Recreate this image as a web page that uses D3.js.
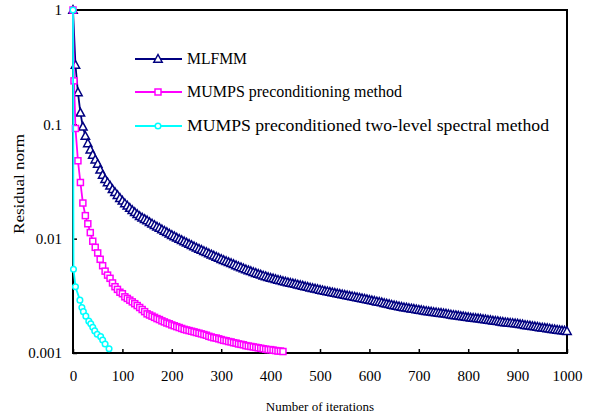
<!DOCTYPE html>
<html lang="en">
<head>
  <meta charset="UTF-8">
  <title>Residual norm vs iterations</title>
  <script src="https://d3js.org/d3.v7.min.js"></script>
  <style>
    body { margin: 0; background: #fff; }
  </style>
</head>
<body>
<script>
// series names (legend order)
const seriesNames = [
  "MLFMM",
  "MUMPS preconditioning method",
  "MUMPS preconditioned two-level spectral method"
];

// MLFMM: one marker every 5 iterations, 0..1000
const mlfmmStep = 5;
const mlfmmResidual = [
  1, 0.33, 0.19, 0.126, 0.095, 0.079, 0.068, 0.060, 0.054, 0.049,
  0.045, 0.040, 0.036, 0.033, 0.031, 0.029, 0.027, 0.0254, 0.024, 0.0226,
  0.0214, 0.0203, 0.0194, 0.0185, 0.0177, 0.0170, 0.0163, 0.0157, 0.0152, 0.0148,
  0.0144, 0.0139, 0.0135, 0.0131, 0.0127, 0.0124, 0.0120, 0.01167, 0.01135,
  0.01102, 0.01072, 0.01045, 0.01016, 0.00991, 0.00966, 0.00942, 0.00918, 0.00895, 0.00875,
  0.00853, 0.00832, 0.00813, 0.00794, 0.00776, 0.00759, 0.00741, 0.00724, 0.00708, 0.00692,
  0.00676, 0.00661, 0.00647, 0.00634, 0.00621, 0.00608, 0.00596, 0.00583, 0.00571, 0.00560,
  0.00548, 0.00537, 0.00527, 0.00518, 0.00508, 0.00499, 0.00490, 0.00482, 0.00474, 0.00467,
  0.00459, 0.00452, 0.00447, 0.00441, 0.00435, 0.00430, 0.00424, 0.00419, 0.00414, 0.00409,
  0.00404, 0.00400, 0.00395, 0.00390, 0.00386, 0.00381, 0.00377, 0.00372, 0.00368, 0.00364,
  0.00360, 0.00356, 0.00352, 0.00348, 0.00345, 0.00341, 0.00338, 0.00334, 0.00331, 0.00328,
  0.00324, 0.00321, 0.00318, 0.00315, 0.00312, 0.00309, 0.00306, 0.00303, 0.00300, 0.00297,
  0.00294,
  0.00290, 0.00287, 0.00284, 0.00281, 0.00279, 0.00276, 0.00272, 0.00269, 0.00266, 0.00263,
  0.00260, 0.00257, 0.00255, 0.00252, 0.00250, 0.00248, 0.00246, 0.00244, 0.00242, 0.00240,
  0.00238, 0.00236, 0.00234, 0.00232, 0.00230, 0.00229, 0.00227, 0.00226, 0.00224, 0.00223,
  0.00221, 0.00220, 0.00218, 0.00216, 0.00214, 0.00213, 0.00211, 0.00209, 0.00208, 0.00206,
  0.00205, 0.00203, 0.00202, 0.00201, 0.00200, 0.00199, 0.00197, 0.00196, 0.00194, 0.00193,
  0.00191, 0.00190, 0.00189, 0.00187, 0.00186, 0.00185, 0.00184, 0.00183, 0.00182, 0.00181,
  0.00180, 0.00178, 0.00177, 0.00175, 0.00174, 0.00173, 0.00171, 0.00170, 0.00169, 0.00167,
  0.00166, 0.00165, 0.00164, 0.00163, 0.00161, 0.00160, 0.00159, 0.00158, 0.00157, 0.00156,
  0.00155
];

// MUMPS preconditioning method
const mumpsIter = [
  0, 2, 5, 10, 15, 20, 25, 30, 35, 40, 45, 50, 55, 60, 65, 70, 75, 80, 85, 90,
  95, 100, 105, 110, 115, 120, 125, 130, 135, 140, 145, 150, 155, 160, 165, 170, 175, 180, 185, 190,
  195, 200, 205, 210, 215, 220, 225, 230, 235, 240, 245, 250, 255, 260, 265, 270, 275, 280, 285, 290,
  295, 300, 305, 310, 315, 320, 325, 330, 335, 340, 345, 350, 355, 360, 365, 370, 375, 380, 385, 390,
  395, 400, 405, 410, 415, 420, 425
];
const mumpsResidual = [
  1, 0.24, 0.092, 0.048, 0.031, 0.0205, 0.0159, 0.0135, 0.0113, 0.0095, 0.0084, 0.0075, 0.0066, 0.0058, 0.0052, 0.0048, 0.0045, 0.0041, 0.0038, 0.0036,
  0.0034, 0.0033, 0.0031, 0.0030, 0.0029, 0.0028, 0.0027, 0.0026, 0.0025, 0.0024, 0.0023, 0.0022, 0.00215, 0.0021, 0.00205, 0.0020, 0.00196, 0.00191, 0.00187, 0.00183,
  0.00180, 0.00176, 0.00173, 0.00170, 0.00167, 0.00164, 0.00161, 0.00159, 0.00157, 0.00155, 0.00153, 0.00151, 0.00149, 0.00147, 0.00145, 0.00143, 0.00140, 0.00138, 0.00136, 0.00135,
  0.00133, 0.00131, 0.00129, 0.00128, 0.00126, 0.00125, 0.00123, 0.00122, 0.00120, 0.00119, 0.00118, 0.00116, 0.00115, 0.00114, 0.00113, 0.00112, 0.00111, 0.00110, 0.00109, 0.00108,
  0.00107, 0.00107, 0.00106, 0.00105, 0.00104, 0.00104, 0.00103
];

// MUMPS preconditioned two-level spectral method
const spectralIter = [0, 1, 5, 14, 18, 21, 26, 32, 36, 40, 44, 49, 56, 60, 65, 73];
const spectralResidual = [1, 0.0054, 0.0038, 0.0029, 0.0025, 0.0023, 0.0021, 0.0019, 0.0018,
  0.00168, 0.00156, 0.00146, 0.00139, 0.0013, 0.0012, 0.00109];

const xTicks = [0, 100, 200, 300, 400, 500, 600, 700, 800, 900, 1000];
const yTicks = [0.001, 0.01, 0.1, 1];
const yTickLabels = ["0.001", "0.01", "0.1", "1"];

const width = 590, height = 417;
const margin = {left: 73, right: 23, top: 10, bottom: 64};
const serif = "'Liberation Serif', 'Times New Roman', serif";

const x = d3.scaleLinear().domain([0, 1000]).range([margin.left, width - margin.right]);
const y = d3.scaleLog().domain([0.001, 1]).range([height - margin.bottom, margin.top]);

const svg = d3.select("body").append("svg")
    .attr("width", width)
    .attr("height", height)
    .attr("font-family", serif);

const series = [
  {name: seriesNames[0], color: "#000080", shape: "tri",
   pts: mlfmmResidual.map((v, i) => [i * mlfmmStep, v])},
  {name: seriesNames[1], color: "#ff00ff", shape: "sq",
   pts: mumpsIter.map((it, i) => [it, mumpsResidual[i]])},
  {name: seriesNames[2], color: "#00ffff", shape: "circ",
   pts: spectralIter.map((it, i) => [it, spectralResidual[i]])}
];

// axes (ticks pointing inward)
svg.append("g")
    .attr("transform", `translate(0,${y.range()[0]})`)
    .call(d3.axisBottom(x).tickValues(xTicks).tickSize(-4).tickPadding(17).tickFormat(d3.format("d")))
    .attr("font-family", serif)
    .attr("font-size", 15)
    .call(g => g.select(".domain").remove())
    .call(g => g.selectAll("line").attr("stroke", "#000").attr("stroke-width", 1.5));

svg.append("g")
    .attr("transform", `translate(${x.range()[0]},0)`)
    .call(d3.axisLeft(y).tickValues(yTicks).tickSize(-4).tickPadding(11)
      .tickFormat((d, i) => yTickLabels[i]))
    .attr("font-family", serif)
    .attr("font-size", 15)
    .call(g => g.select(".domain").remove())
    .call(g => g.selectAll("line").attr("stroke", "#000").attr("stroke-width", 1.5));

// plot frame
svg.append("rect")
    .attr("x", x.range()[0])
    .attr("y", y.range()[1])
    .attr("width", x.range()[1] - x.range()[0])
    .attr("height", y.range()[0] - y.range()[1])
    .attr("fill", "none")
    .attr("stroke", "#000")
    .attr("stroke-width", 2);

function marker(sel, shape, color) {
  if (shape === "tri") {
    sel.append("path").attr("d", "M0,-4.5L4.2,3.2L-4.2,3.2Z");
  } else if (shape === "sq") {
    sel.append("rect").attr("x", -3).attr("y", -3).attr("width", 6).attr("height", 6);
  } else {
    sel.append("circle").attr("r", 2.8);
  }
  sel.selectAll("*").attr("fill", "#fff").attr("stroke", color).attr("stroke-width", 1.5);
}

const line = d3.line().x(d => x(d[0])).y(d => y(d[1]));

for (const s of series) {
  const g = svg.append("g");
  g.append("path")
      .attr("d", line(s.pts))
      .attr("fill", "none")
      .attr("stroke", s.color)
      .attr("stroke-width", 1.8);
  g.selectAll("g.m")
    .data(s.pts)
    .join("g")
      .attr("class", "m")
      .attr("transform", d => `translate(${x(d[0])},${y(d[1])})`)
      .each(function() { marker(d3.select(this), s.shape, s.color); });
}

// legend
const legendY = [59, 92, 126];
const legendLen = [60, 215, 362];
series.forEach((s, i) => {
  const g = svg.append("g").attr("transform", `translate(135,${legendY[i]})`);
  g.append("line").attr("x1", 0).attr("x2", 47)
      .attr("stroke", s.color).attr("stroke-width", 1.8);
  const m = g.append("g").attr("transform", "translate(23,0)");
  marker(m, s.shape, s.color);
  g.append("text")
      .attr("x", 52)
      .attr("y", 5)
      .attr("font-size", 16)
      .attr("textLength", legendLen[i])
      .attr("lengthAdjust", "spacingAndGlyphs")
      .text(s.name);
});

// axis titles
svg.append("text")
    .attr("x", (x.range()[0] + x.range()[1]) / 2)
    .attr("y", 411)
    .attr("text-anchor", "middle")
    .attr("font-size", 13)
    .text("Number of iterations");

svg.append("text")
    .attr("transform", "translate(24,184) rotate(-90)")
    .attr("text-anchor", "middle")
    .attr("font-size", 14)
    .attr("textLength", 100)
    .attr("lengthAdjust", "spacingAndGlyphs")
    .text("Residual norm");
</script>
</body>
</html>
